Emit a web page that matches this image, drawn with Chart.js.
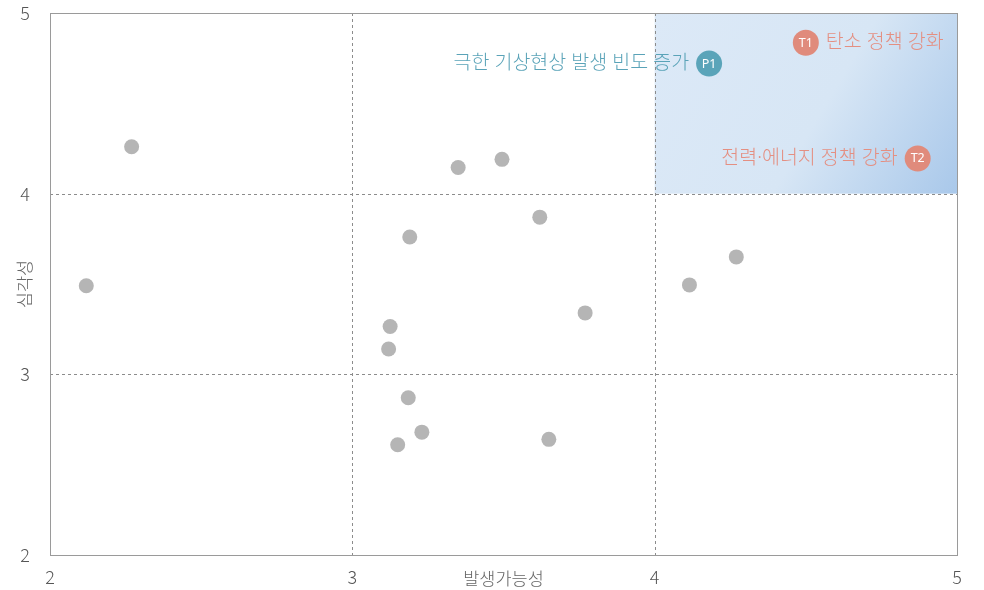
<!DOCTYPE html>
<html>
<head>
<meta charset="utf-8">
<script src="https://cdn.jsdelivr.net/npm/chart.js@4"></script>
<style>
  html, body { margin: 0; padding: 0; background: #fff; }
  #wrap { width: 984px; height: 590px; }
</style>
</head>
<body>
<div id="wrap"><canvas id="risk-chart"></canvas></div>
<script>
// 일반 리스크 (회색 점)
const grayX = [2.27, 2.12, 3.35, 3.495, 3.62, 3.19, 3.125, 3.12, 3.77, 3.185, 3.23, 3.15, 3.65, 4.115, 4.27];
const grayY = [4.26, 3.49, 4.145, 4.19, 3.87, 3.76, 3.265, 3.14, 3.34, 2.87, 2.68, 2.61, 2.64, 3.495, 3.65];

// 주요 리스크
const keyCodes = ["P1", "T1", "T2"];
const keyX = [4.18, 4.50, 4.87];
const keyY = [4.72, 4.835, 4.195];
const keyNames = ["극한 기상현상 발생 빈도 증가", "탄소 정책 강화", "전력·에너지 정책 강화"];
const keySide = ["left", "right", "left"];
const keyColors = ["#5aa4b9", "#e08b7c", "#e08b7c"];

// 축
const xTicks = [2, 3, 4, 5];
const yTicks = [2, 3, 4, 5];
const xTitle = "발생가능성";
const yTitle = "심각성";

// 강조 영역 (x 4~5, y 4~5)
const zoneX = [4, 5];
const zoneY = [4, 5];

const FONT = "'Noto Sans CJK KR', 'Noto Sans', sans-serif";
const LABEL_FONT = "'Noto Sans', 'Noto Sans CJK KR', sans-serif";

const zonePlugin = {
    id: "zone",
    beforeDatasetsDraw(chart) {
        const { ctx, chartArea, scales } = chart;
        const x1 = scales.x.getPixelForValue(zoneX[0]);
        const x2 = scales.x.getPixelForValue(zoneX[1]);
        const y1 = scales.y.getPixelForValue(zoneY[1]);
        const y2 = scales.y.getPixelForValue(zoneY[0]);
        ctx.save();
        let g = ctx.createLinearGradient(x1, y1, x2, y2);
        g.addColorStop(0, "#dce9f7");
        g.addColorStop(0.55, "#d7e6f5");
        g.addColorStop(1, "#a9c8ea");
        ctx.fillStyle = g;
        ctx.fillRect(x1, y1, x2 - x1, y2 - y1);

        // 내부 점선
        ctx.strokeStyle = "#8c8c8c";
        ctx.lineWidth = 1;
        ctx.setLineDash([3, 3]);
        for (let i = 1; i < xTicks.length - 1; i++) {
            let px = Math.round(scales.x.getPixelForValue(xTicks[i])) + 0.5;
            ctx.beginPath(); ctx.moveTo(px, chartArea.top); ctx.lineTo(px, chartArea.bottom); ctx.stroke();
        }
        for (let i = 1; i < yTicks.length - 1; i++) {
            let py = Math.round(scales.y.getPixelForValue(yTicks[i])) + 0.5;
            ctx.beginPath(); ctx.moveTo(chartArea.left, py); ctx.lineTo(chartArea.right, py); ctx.stroke();
        }
        ctx.setLineDash([]);

        // 테두리
        ctx.strokeStyle = "#9a9a9a";
        ctx.strokeRect(Math.round(chartArea.left) + 0.5, Math.round(chartArea.top) + 0.5,
            Math.round(chartArea.right - chartArea.left), Math.round(chartArea.bottom - chartArea.top));
        ctx.restore();
    },
    afterDatasetsDraw(chart) {
        const { ctx, scales } = chart;
        ctx.save();
        ctx.textBaseline = "middle";
        for (let i = 0; i < keyCodes.length; i++) {
            let px = scales.x.getPixelForValue(keyX[i]);
            let py = scales.y.getPixelForValue(keyY[i]);
            ctx.fillStyle = "#ffffff";
            ctx.textAlign = "center";
            ctx.font = "400 12.5px " + LABEL_FONT;
            ctx.fillText(keyCodes[i], px, py + 0.5);

            ctx.fillStyle = keyColors[i] == "#5aa4b9" ? "#5aa3b8" : "#e48f82";
            ctx.font = "300 19.5px " + LABEL_FONT;
            if (keySide[i] == "left") {
                ctx.textAlign = "right";
                ctx.fillText(keyNames[i], px - 20, py);
            } else {
                ctx.textAlign = "left";
                ctx.fillText(keyNames[i], px + 20, py);
            }
        }

        // 축 제목
        ctx.fillStyle = "#666666";
        ctx.font = "300 17.5px " + FONT;
        ctx.textAlign = "center";
        ctx.fillText(xTitle, (scales.x.left + scales.x.right) / 2, 578);
        ctx.translate(24, 284);
        ctx.rotate(-Math.PI / 2);
        ctx.fillText(yTitle, 0, 0);
        ctx.restore();
    }
};

new Chart(document.getElementById("risk-chart"), {
    type: "scatter",
    data: {
        datasets: [
            {
                data: grayX.map((x, i) => ({ x: x, y: grayY[i] })),
                backgroundColor: "#b5b5b5",
                borderWidth: 0,
                pointRadius: 7.5,
                pointHoverRadius: 7.5
            },
            {
                data: keyX.map((x, i) => ({ x: x, y: keyY[i] })),
                backgroundColor: keyColors,
                borderWidth: 0,
                pointRadius: 13,
                pointHoverRadius: 13
            }
        ]
    },
    options: {
        responsive: true,
        maintainAspectRatio: false,
        animation: false,
        layout: { padding: { top: 11, right: 27, left: 0, bottom: 0 } },
        plugins: { legend: { display: false }, tooltip: { enabled: false } },
        scales: {
            x: {
                min: 2, max: 5,
                afterFit(scale) { scale.height = 35; scale.paddingLeft = 0; scale.paddingRight = 0; },
                afterBuildTicks(scale) { scale.ticks = xTicks.map(v => ({ value: v })); },
                grid: { display: false, drawTicks: false },
                border: { display: false },
                ticks: { padding: 11, color: "#555", font: { family: FONT, size: 18, weight: 300 } }
            },
            y: {
                min: 2, max: 5,
                afterFit(scale) { scale.width = 50; scale.paddingTop = 0; scale.paddingBottom = 0; },
                afterBuildTicks(scale) { scale.ticks = yTicks.map(v => ({ value: v })); },
                grid: { display: false, drawTicks: false },
                border: { display: false },
                ticks: { padding: 20, color: "#555", font: { family: FONT, size: 18, weight: 300 } }
            }
        }
    },
    plugins: [zonePlugin]
});
</script>
</body>
</html>
